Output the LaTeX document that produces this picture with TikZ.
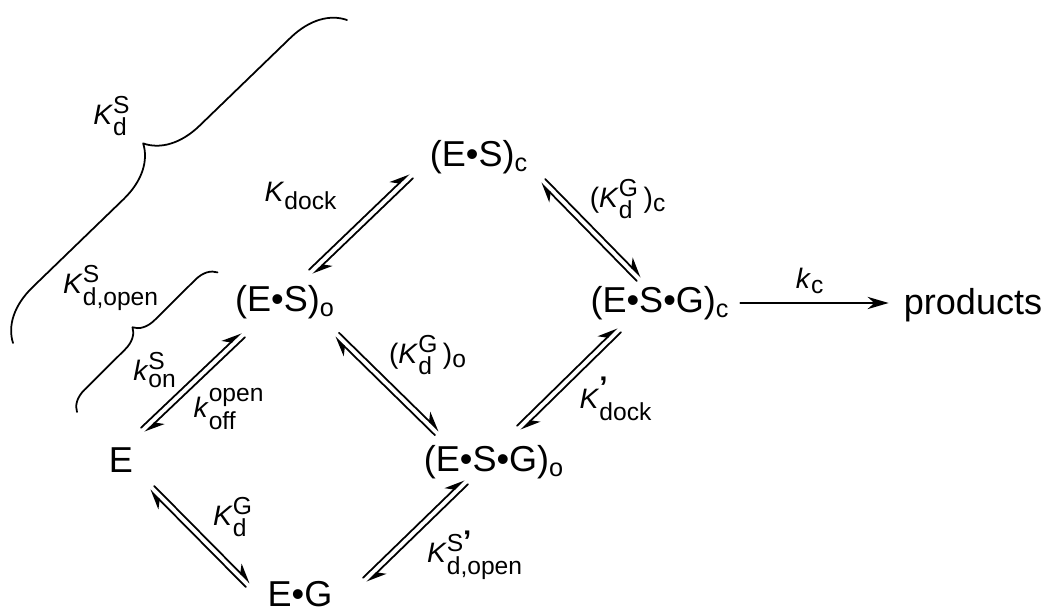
\documentclass[tikz,border=0pt]{standalone}
\usepackage{fontspec}
\usepackage{amsmath}
\setmainfont{Liberation Sans}
\usetikzlibrary{arrows.meta, calc, decorations.pathreplacing}
\DeclareMathSizes{16}{16}{14}{10}

% constants with stacked scripts
\newcommand\Kc[2]{\textit{K}$^{\text{#1}}_{\text{#2}}$}
\newcommand\kc[2]{\textit{k}$^{\text{#1}}_{\text{#2}}$}
\newcommand\Prm{{\fontsize{17}{17}\selectfont\bfseries ’}}

\begin{document}
\begin{tikzpicture}[line cap = round, line join = round,
        species/.style = {font = \fontsize{20.5}{24}\selectfont, inner sep = 2pt},
        konst/.style = {font = \fontsize{16}{19}\selectfont, inner sep = 1pt},
        harpoon/.style = {line width = 1pt, -{Stealth[left, length = 10pt, width = 8.5pt]}},
        curly/.style = {line width = 1pt, decorate, decoration = {brace, amplitude = #1}}]
        %
        \def\Gap{1.7pt}
        \useasboundingbox (0, 0) rectangle (21, 12.32);

        % species
        \node [species] (E)    at (2.42, 3.12)  {E};
        \node [species] (ESo)  at (5.70, 6.28)  {(E•S)\textsubscript{o}};
        \node [species] (ESc)  at (9.58, 9.18)  {(E•S)\textsubscript{c}};
        \node [species] (ESGc) at (13.20, 6.26) {(E•S•G)\textsubscript{c}};
        \node [species] (ESGo) at (9.88, 3.08)  {(E•S•G)\textsubscript{o}};
        \node [species] (EG)   at (6.00, 0.44)  {E•G};
        \node [species] (prod) at (19.46, 6.22) {products};

        % equilibria
        \foreach \a/\ax/\ay/\b/\bx/\by in {E/0.44/0.60/ESo/-0.84/-0.66, ESo/0.52/0.60/ESc/-1.36/-0.38,
            ESc/1.28/-0.48/ESGc/-0.42/0.48, ESo/1.04/-0.66/ESGo/-1.14/0.58,
            ESGo/0.50/0.68/ESGc/-0.82/-0.54, E/0.62/-0.56/EG/-1.04/0.18, EG/1.30/0.28/ESGo/-0.56/-0.40}
        {
            \coordinate (p) at ($(\a) + (\ax, \ay)$);
            \coordinate (q) at ($(\b) + (\bx, \by)$);
            \draw [harpoon] ($(p)!\Gap!90:(q)$) -- ($(q)!\Gap!-90:(p)$);
            \draw [harpoon] ($(q)!\Gap!90:(p)$) -- ($(p)!\Gap!-90:(q)$);
        }

        % chemistry step
        \draw [line width = 1pt, -{Stealth[length = 12pt, width = 7pt]}, shorten <= 4pt, shorten >= 6.5pt]
            (ESGc.east) -- (ESGc.east -| prod.west);

        % braces
        \draw [curly = 1.06cm] (0.26, 5.46) -- (6.94, 11.92);
        \draw [curly = 0.42cm] (1.54, 4.08) -- (4.36, 6.88);

        % constants
        \node [konst] (KdS)      at (2.24, 10.00) {\Kc{S}{d}};
        \node [konst] (KdSopen)  at (2.22, 6.56)  {\Kc{S}{d,open}};
        \node [konst] (konS)     at (3.10, 4.92)  {\kc{S}{on}};
        \node [konst] (koff)     at (4.58, 4.14)  {\kc{open}{off}};
        \node [konst] (Kdock)    at (6.02, 8.40)  {\textit{K}$_{\text{dock}}$};
        \node [konst] (KdGc)     at (12.56, 8.34) {(\Kc{G}{d}\,)\textsubscript{c}};
        \node [konst] (KdGo)     at (8.56, 5.22)  {(\Kc{G}{d}\,)\textsubscript{o}};
        \node [konst] (Kdockp)   at (12.32, 4.34) {\textit{K}$^{\text{\Prm}}_{\text{dock}}$};
        \node [konst] (KdSopenp) at (9.50, 1.22)  {\Kc{S\Prm}{d,open}};
        \node [konst] (KdG)      at (4.66, 1.98)  {\Kc{G}{d}};
        \node [konst] (kc)       at (16.20, 6.70) {\textit{k}\textsubscript{c}};
\end{tikzpicture}
\end{document}
